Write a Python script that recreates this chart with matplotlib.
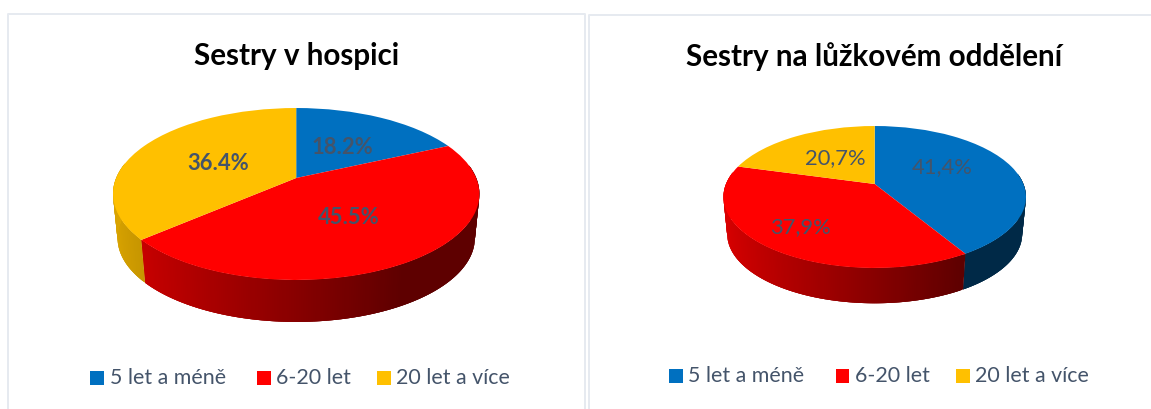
import numpy as np
import matplotlib
matplotlib.use("Agg")
import matplotlib.pyplot as plt
from matplotlib.collections import PolyCollection
from matplotlib.patches import Rectangle
from matplotlib.transforms import Transform

categories = ["5 let a méně", "6-20 let", "20 let a více"]
titles = ["Sestry v hospici", "Sestry na lůžkovém oddělení"]
hospice_values = [18.2, 45.5, 36.4]
ward_values = [41.4, 37.9, 20.7]
hospice_labels = ["18.2%", "45.5%", "36.4%"]
ward_labels = ["41,4%", "37,9%", "20,7%"]

COLORS = ["#0070C0", "#FF0000", "#FFC000"]
TEXT = "#44546A"
BORDER = "#E6EAF0"
plt.rcParams["font.family"] = ["Lato", "DejaVu Sans"]


class Projective(Transform):
    """Tilted-disc projection of the unit pie into pixel coordinates."""
    input_dims = output_dims = 2

    def __init__(self, cx, cy, rx, ry, k):
        super().__init__()
        self.p = (cx, cy, rx, ry, k)

    def transform_non_affine(self, xy):
        xy = np.asarray(xy, float)
        cx, cy, rx, ry, k = self.p
        w = 1 + k * xy[:, 1]
        return np.column_stack([cx + rx * xy[:, 0] / w, cy - ry * xy[:, 1] / w])


fig = plt.figure(figsize=(11.51, 4.09), dpi=100, facecolor="white")
ax = fig.add_axes([0, 0, 1, 1])


def draw_pie(values, cx, cy, rx, ry, k, depth, shrink):
    top = Projective(cx, cy, rx, ry, k)
    bottom = Projective(cx, cy + depth, rx * shrink, ry * shrink, k)
    edges = np.cumsum([0] + list(values)) / sum(values) * 2 * np.pi
    for i, col in enumerate(COLORS):
        base = np.array(matplotlib.colors.to_rgb(col))
        th = np.linspace(edges[i], edges[i + 1], max(3, int((edges[i + 1] - edges[i]) * 90)))
        u, v = np.sin(th), np.cos(th)
        uv = np.column_stack([u, v])
        a, b = top.transform_non_affine(uv), bottom.transform_non_affine(uv)
        verts, cols = [], []
        # each strip runs under the next one, so no seam lets the background through
        order = range(len(th) - 1) if cx >= 0 else ()
        for j in order:
            if v[j] > 0.15 and v[j + 1] > 0.15:
                continue
            e = min(j + 3, len(th) - 1)
            verts.append(np.vstack([a[j:e + 1], b[j:e + 1][::-1]]))
            cols.append(base * np.interp(u[j], [-1, 0.5], [0.86, 0.37]))
        if verts:
            pc = PolyCollection(verts, facecolors=cols, edgecolors="none", linewidths=0, zorder=1)
            pc.set_snap(False)
            ax.add_collection(pc)
    wedges, _ = ax.pie(values, colors=COLORS, startangle=90, counterclock=False,
                       wedgeprops=dict(linewidth=0))
    for w in wedges:
        w.set_transform(top + ax.transData)
        w.set_zorder(2)


draw_pie(hospice_values, 296.2, 178, 180, 83, 0.186, 44.5, 0.975)
draw_pie(ward_values, 874.7, 184, 148.7, 68.6, 0.183, 37.4, 0.975)
ax.set_aspect("auto")
ax.set_xlim(0, 1151)
ax.set_ylim(409, 0)
ax.axis("off")

# panel borders
for x0, x1, y0 in [(8, 585, 14), (589, 1152, 15)]:
    ax.plot([x0, x0, x1, x1], [410, y0, y0, 410], color=BORDER, lw=1.4, zorder=0)

# titles
ax.text(296.5, 56, titles[0], ha="center", va="center", fontsize=21.3, fontweight="bold", color="black")
ax.text(874.5, 57, titles[1], ha="center", va="center", fontsize=21.3, fontweight="bold", color="black")

# data labels
for s, (x, y) in zip(hospice_labels, [(342, 147), (349, 218), (218, 163)]):
    ax.text(x, y, s, ha="center", va="center", fontsize=15.8, fontweight="bold", color=TEXT, zorder=3)
for s, (x, y) in zip(ward_labels, [(942, 167), (800, 227), (835, 158)]):
    ax.text(x, y, s, ha="center", va="center", fontsize=15.8, color=TEXT, zorder=3)


def legend(squares, y):
    for name, col, x in zip(categories, COLORS, squares):
        ax.add_patch(Rectangle((x, y - 7), 13.7, 13.7, facecolor=col, edgecolor="none", zorder=3))
        ax.text(x + 19.5, y - 0.5, name, ha="left", va="center", fontsize=15.4, color=TEXT, zorder=3)


legend([90.3, 257, 377], 378)
legend([669, 835.6, 956], 376.2)

fig.savefig("out.png", dpi=100, facecolor="white")
